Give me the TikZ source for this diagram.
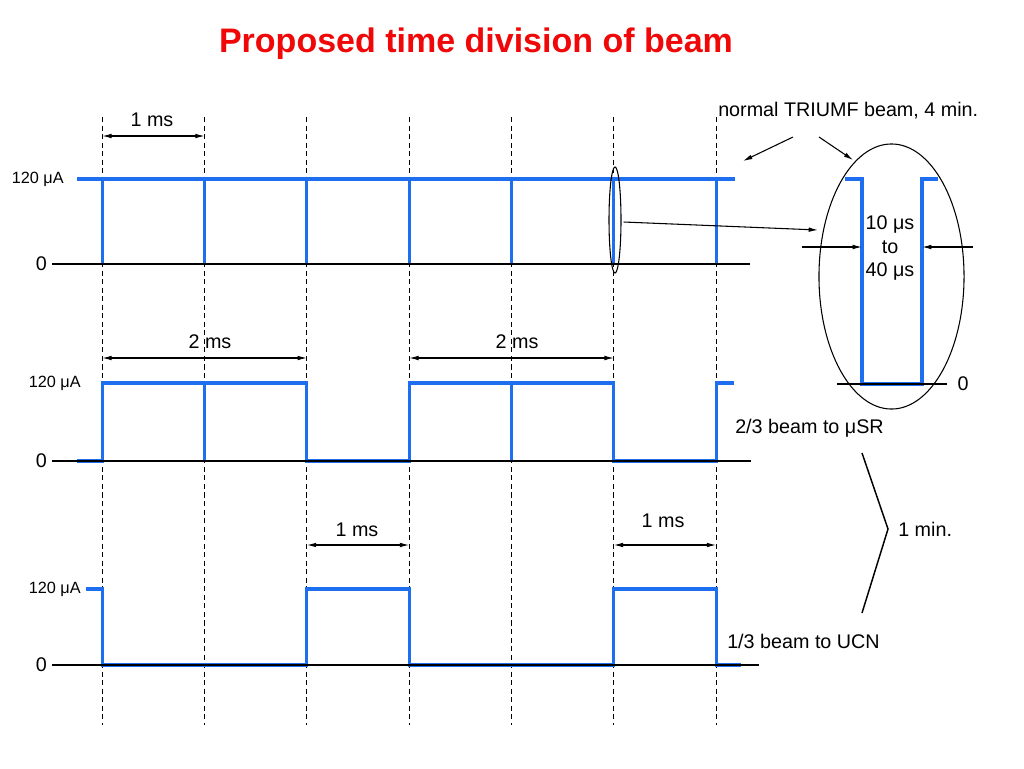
\documentclass[tikz,border=0pt]{standalone}
\usepackage{fontspec}
\setmainfont{Liberation Sans}
\usetikzlibrary{arrows.meta,shapes.geometric}
\definecolor{beamblue}{RGB}{30,110,240}
\definecolor{titlered}{RGB}{240,8,8}
\tikzset{
  beamline/.style={draw=beamblue,line width=2.3pt},
  zeroline/.style={draw=black,line width=0.9pt},
  divline/.style={draw=black,line width=0.8pt,dash pattern=on 3.8pt off 2.6pt},
  span/.style={<->,draw=black,line width=0.8pt},
  lbl/.style={font=\fontsize{14.8}{17.3}\selectfont,inner sep=0pt},
  level/.style={font=\fontsize{12.2}{14}\selectfont,inner sep=0pt,anchor=east},
}

\begin{document}
\begin{tikzpicture}[x=0.75pt,y=-0.75pt,>={Latex[length=7pt,width=3.5pt]}]
\useasboundingbox (0,0) rectangle (1024,768);
\node[font=\bfseries\fontsize{25.5}{30}\selectfont,text=titlered] (title) at (476,44) {Proposed time division of beam};

% time marks, 1 ms apart
\foreach \i in {1,...,7} {
  \coordinate (u\i) at (102.3*\i,117);
  \coordinate (d\i) at (102.3*\i,725);
  \path [divline] (u\i) -- (d\i);
}

% normal beam
\path [beamline] (77,179) -- (735,179);
\foreach \i in {1,...,7} \path [beamline] (102.3*\i,179) -- (102.3*\i,264);
\path [zeroline] (52,264) -- (750,264);
\node[level] (hi1) at (64,179) {120 μA};
\node[lbl,anchor=east] (lo1) at (47,264) {0};

% 2/3 beam
\path [beamline] (77,461) -| (102.3,383) -| (306.9,461) -| (409.2,383) -| (613.8,461) -| (716.1,383) -- (734,383);
\path [beamline] (204.6,383) -- (204.6,461);
\path [beamline] (511.5,383) -- (511.5,461);
\path [zeroline] (52,461) -- (751,461);
\node[level] (hi2) at (81,383) {120 μA};
\node[lbl,anchor=east] (lo2) at (47,461) {0};

% 1/3 beam
\path [beamline] (86,589) -| (102.3,665) -| (306.9,589) -| (409.2,665) -| (613.8,589) -| (716.1,665) -- (741,665);
\path [zeroline] (52,665) -- (759,665);
\node[level] (hi3) at (81,589) {120 μA};
\node[lbl,anchor=east] (lo3) at (47,665) {0};

% time spans
\coordinate (s1a) at (102.3,136);
\coordinate (s1b) at (204.6,136);
\path [span] (s1a) -- (s1b);
\node[lbl] (ms1) at (152,120) {1 ms};
\coordinate (s2a) at (102.3,358);
\coordinate (s2b) at (306.9,358);
\path [span] (s2a) -- (s2b);
\node[lbl] (ms2) at (210,342) {2 ms};
\coordinate (s3a) at (409.2,358);
\coordinate (s3b) at (613.8,358);
\path [span] (s3a) -- (s3b);
\node[lbl] (ms3) at (517,342) {2 ms};
\coordinate (s4a) at (306.9,545);
\coordinate (s4b) at (409.2,545);
\path [span] (s4a) -- (s4b);
\node[lbl] (ms4) at (357,530) {1 ms};
\coordinate (s5a) at (613.8,545);
\coordinate (s5b) at (716.1,545);
\path [span] (s5a) -- (s5b);
\node[lbl] (ms5) at (663,521) {1 ms};

% gap, enlarged
\node[shape=ellipse,draw=black,line width=0.8pt,inner sep=0pt,minimum width=9pt,minimum height=79.5pt] (gap) at (615,220) {};
\node[shape=ellipse,draw=black,line width=0.8pt,inner sep=0pt,minimum width=108.8pt,minimum height=198.8pt] (zoom) at (891.5,276.5) {};
\coordinate (zin) at (818,230);
\path [->,draw=black,line width=0.8pt] (gap.east) ++(2,2) coordinate (zout) (zout) -- (zin);
\path [beamline] (845,179) -| (862,384) -| (922,179) -- (938,179);
\path [zeroline] (837,384) -- (947,384);
\node[lbl] (lo4) at (963,384) {0};
\coordinate (wl) at (802,247);
\coordinate (wr) at (973,247);
\coordinate (el) at (862,247);
\coordinate (er) at (922,247);
\path [->,draw=black,line width=0.8pt] (wl) -- (el);
\path [->,draw=black,line width=0.8pt] (wr) -- (er);
\node[lbl,align=center] (width) at (890,248) {10 μs\\to\\40 μs};

% notes
\node[lbl,anchor=west] (normal) at (718,111) {normal TRIUMF beam, 4 min.};
\coordinate (na) at (793,137);
\coordinate (nb) at (743,161);
\coordinate (nc) at (819,137);
\coordinate (nd) at (853,160);
\path [->,draw=black,line width=0.8pt] (na) -- (nb);
\path [->,draw=black,line width=0.8pt] (nc) -- (nd);
\node[lbl,anchor=west] (musr) at (735,428) {2/3 beam to μSR};
\node[lbl,anchor=west] (ucn) at (727,641) {1/3 beam to UCN};
\coordinate (ba) at (862,453);
\coordinate (bb) at (888,529);
\coordinate (bc) at (862,613);
\path [draw=black,line width=1.1pt] (ba) -- (bb) -- (bc);
\node[lbl,anchor=west] (min) at (898,529) {1 min.};
\end{tikzpicture}
\end{document}
